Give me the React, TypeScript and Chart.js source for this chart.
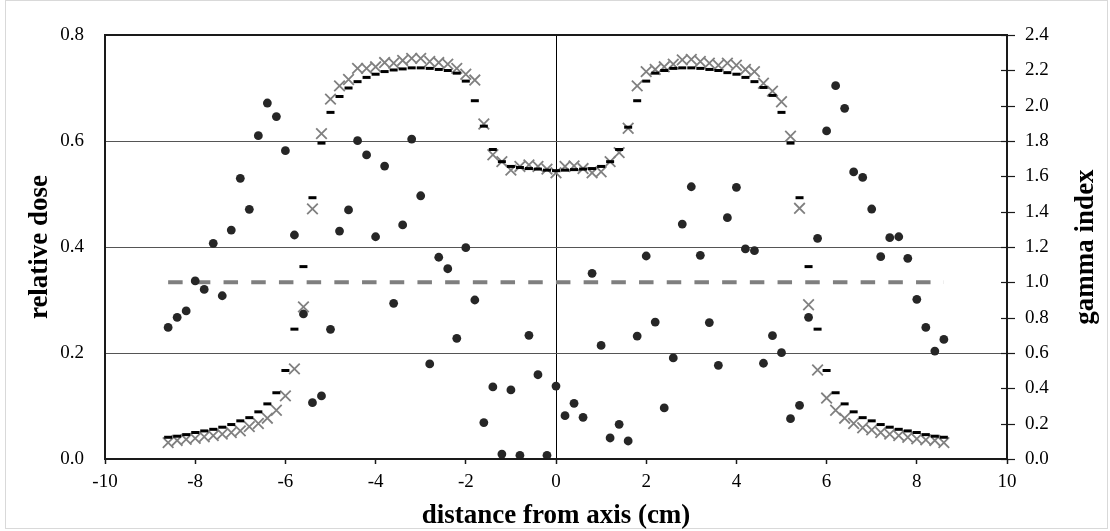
import React, { useEffect, useRef } from "react";
import { Chart, registerables } from "chart.js";

Chart.register(...registerables);

// distance from axis (cm)
const positions = [
  -8.6, -8.4, -8.2, -8.0, -7.8, -7.6, -7.4, -7.2, -7.0, -6.8, -6.6, -6.4, -6.2, -6.0, -5.8,
  -5.6, -5.4, -5.2, -5.0, -4.8, -4.6, -4.4, -4.2, -4.0, -3.8, -3.6, -3.4, -3.2, -3.0, -2.8,
  -2.6, -2.4, -2.2, -2.0, -1.8, -1.6, -1.4, -1.2, -1.0, -0.8, -0.6, -0.4, -0.2, 0.0, 0.2,
  0.4, 0.6, 0.8, 1.0, 1.2, 1.4, 1.6, 1.8, 2.0, 2.2, 2.4, 2.6, 2.8, 3.0, 3.2,
  3.4, 3.6, 3.8, 4.0, 4.2, 4.4, 4.6, 4.8, 5.0, 5.2, 5.4, 5.6, 5.8, 6.0, 6.2,
  6.4, 6.6, 6.8, 7.0, 7.2, 7.4, 7.6, 7.8, 8.0, 8.2, 8.4, 8.6,
];

// relative dose, dash markers
const measuredDose = [
  0.041, 0.043, 0.046, 0.050, 0.053, 0.056, 0.060, 0.065, 0.072, 0.078, 0.089, 0.104, 0.125, 0.167, 0.245,
  0.363, 0.493, 0.596, 0.654, 0.684, 0.700, 0.712, 0.720, 0.726, 0.731, 0.734, 0.736, 0.738, 0.738, 0.737,
  0.735, 0.733, 0.728, 0.713, 0.676, 0.628, 0.584, 0.561, 0.552, 0.550, 0.548, 0.547, 0.545, 0.544, 0.545,
  0.546, 0.547, 0.548, 0.552, 0.561, 0.584, 0.626, 0.676, 0.713, 0.728, 0.733, 0.737, 0.738, 0.738, 0.737,
  0.735, 0.733, 0.729, 0.726, 0.720, 0.712, 0.701, 0.686, 0.654, 0.596, 0.493, 0.363, 0.245, 0.167, 0.125,
  0.104, 0.089, 0.078, 0.072, 0.065, 0.060, 0.056, 0.053, 0.050, 0.046, 0.043, 0.041,
];

// relative dose, cross markers
const calculatedDose = [
  0.031, 0.035, 0.037, 0.039, 0.042, 0.044, 0.047, 0.050, 0.053, 0.061, 0.067, 0.077, 0.092, 0.119, 0.170,
  0.287, 0.472, 0.614, 0.679, 0.704, 0.716, 0.737, 0.737, 0.740, 0.748, 0.747, 0.752, 0.756, 0.756, 0.750,
  0.748, 0.745, 0.737, 0.726, 0.715, 0.632, 0.574, 0.561, 0.545, 0.552, 0.555, 0.552, 0.547, 0.540, 0.552,
  0.553, 0.548, 0.540, 0.542, 0.561, 0.578, 0.624, 0.704, 0.731, 0.735, 0.740, 0.745, 0.753, 0.754, 0.750,
  0.747, 0.743, 0.747, 0.743, 0.735, 0.731, 0.709, 0.694, 0.674, 0.609, 0.473, 0.291, 0.168, 0.115, 0.092,
  0.077, 0.067, 0.059, 0.055, 0.050, 0.047, 0.044, 0.041, 0.038, 0.036, 0.035, 0.031,
];

// gamma index, dot markers (right axis)
const gammaIndex = [
  0.745, 0.802, 0.838, 1.008, 0.960, 1.221, 0.924, 1.296, 1.589, 1.413, 1.830, 2.015, 1.938, 1.745, 1.268,
  0.821, 0.319, 0.357, 0.734, 1.290, 1.410, 1.802, 1.721, 1.258, 1.658, 0.881, 1.325, 1.811, 1.490, 0.538,
  1.142, 1.077, 0.683, 1.196, 0.900, 0.206, 0.408, 0.028, 0.391, 0.021, 0.700, 0.477, 0.021, 0.413, 0.245,
  0.315, 0.236, 1.051, 0.643, 0.119, 0.196, 0.102, 0.696, 1.149, 0.775, 0.289, 0.572, 1.330, 1.541, 1.153,
  0.772, 0.530, 1.366, 1.538, 1.189, 1.179, 0.542, 0.698, 0.602, 0.228, 0.304, 0.802, 1.249, 1.857, 2.113,
  1.985, 1.625, 1.594, 1.415, 1.145, 1.253, 1.258, 1.136, 0.904, 0.745, 0.611, 0.677,
];

// gamma = 1 pass threshold line
const thresholdX = [-8.6, 8.6];
const thresholdGamma = [1.0, 1.0];

const xAxisTitle = "distance from axis (cm)";
const leftAxisTitle = "relative dose";
const rightAxisTitle = "gamma index";

const FONT = '"Liberation Serif", "Times New Roman", serif';

const framePlugin = {
  id: "frame",
  beforeDraw(chart: any) {
    const { ctx, width, height } = chart;
    ctx.save();
    ctx.fillStyle = "#ffffff";
    ctx.fillRect(0, 0, width, height);
    ctx.strokeStyle = "#d9d9d9";
    ctx.lineWidth = 1;
    ctx.strokeRect(5.5, 0.5, width - 8, height - 3);
    ctx.restore();
  },
  afterDraw(chart: any) {
    const { ctx, chartArea } = chart;
    const { left, right, top, bottom } = chartArea;
    ctx.save();
    // plot border
    ctx.strokeStyle = "#1a1a1a";
    ctx.lineWidth = 2;
    ctx.strokeRect(left, top, right - left, bottom - top);
    // right axis crossing tick marks
    const y1 = chart.scales.y1;
    ctx.lineWidth = 1.2;
    ctx.strokeStyle = "#1a1a1a";
    y1.ticks.forEach((t: any) => {
      const py = Math.round(y1.getPixelForValue(t.value)) + 0.5;
      ctx.beginPath();
      ctx.moveTo(right - 6, py);
      ctx.lineTo(right + 8, py);
      ctx.stroke();
    });
    // titles
    ctx.fillStyle = "#000";
    ctx.font = `bold 27px ${FONT}`;
    ctx.textAlign = "center";
    ctx.textBaseline = "middle";
    const midY = (top + bottom) / 2;
    ctx.fillText(xAxisTitle, (left + right) / 2, 516);
    ctx.save();
    ctx.translate(40, midY);
    ctx.rotate(-Math.PI / 2);
    ctx.fillText(leftAxisTitle, 0, 0);
    ctx.restore();
    ctx.save();
    ctx.translate(1086, midY);
    ctx.rotate(-Math.PI / 2);
    ctx.fillText(rightAxisTitle, 0, 0);
    ctx.restore();
    ctx.restore();
  },
};

export default function App() {
  const canvasRef = useRef<HTMLCanvasElement | null>(null);

  useEffect(() => {
    document.body.style.margin = "0";
    const canvas = canvasRef.current;
    if (!canvas) return;

    const measuredPts = positions.map((x, i) => ({ x, y: measuredDose[i] }));
    const calcPts = positions.map((x, i) => ({ x, y: calculatedDose[i] }));
    const gammaPts = positions.map((x, i) => ({ x, y: gammaIndex[i] }));
    const threshPts = thresholdX.map((x, i) => ({ x, y: thresholdGamma[i] }));

    const chart = new Chart(canvas, {
      type: "scatter",
      data: {
        datasets: [
          {
            label: "measured dose",
            data: measuredPts,
            yAxisID: "y",
            pointStyle: "line",
            pointRadius: 4,
            pointBorderWidth: 3,
            borderColor: "#000000",
            backgroundColor: "#000000",
            showLine: false,
          },
          {
            label: "calculated dose",
            data: calcPts,
            yAxisID: "y",
            pointStyle: "crossRot",
            pointRadius: 7.5,
            pointBorderWidth: 1.8,
            borderColor: "#808080",
            backgroundColor: "#808080",
            showLine: false,
          },
          {
            label: "gamma index",
            data: gammaPts,
            yAxisID: "y1",
            pointStyle: "circle",
            pointRadius: 4.4,
            pointBorderWidth: 0,
            borderColor: "#262626",
            backgroundColor: "#262626",
            showLine: false,
          },
          {
            label: "gamma = 1",
            data: threshPts,
            yAxisID: "y1",
            showLine: true,
            pointRadius: 0,
            borderColor: "#7f7f7f",
            borderWidth: 4,
            borderDash: [14.5, 13.2],
            fill: false,
          },
        ],
      },
      options: {
        responsive: false,
        animation: false,
        events: [],
        layout: { padding: { top: 35, left: 0, right: 0, bottom: 0 } },
        plugins: {
          legend: { display: false },
          tooltip: { enabled: false },
          title: { display: false },
        },
        scales: {
          x: {
            type: "linear",
            position: "bottom",
            min: -10,
            max: 10,
            afterFit: (s: any) => {
              s.height = 72;
            },
            ticks: {
              stepSize: 2,
              padding: 7,
              color: "#000",
              font: { family: FONT, size: 19 },
              maxRotation: 0,
            },
            grid: {
              drawTicks: true,
              tickLength: 5,
              tickColor: "#1a1a1a",
              tickWidth: 1.5,
              color: (c: any) => (c.tick && c.tick.value === 0 ? "#000000" : "rgba(0,0,0,0)"),
              lineWidth: 1,
            },
            border: { display: false },
          },
          y: {
            type: "linear",
            position: "left",
            min: 0,
            max: 0.8,
            afterFit: (s: any) => {
              s.width = 105;
            },
            ticks: {
              stepSize: 0.2,
              padding: 21,
              color: "#000",
              font: { family: FONT, size: 19 },
              callback: (v: any) => Number(v).toFixed(1),
            },
            grid: {
              drawTicks: false,
              color: (c: any) =>
                c.tick && c.tick.value > 0.01 && c.tick.value < 0.79 ? "#555555" : "rgba(0,0,0,0)",
              lineWidth: 1,
            },
            border: { display: false },
          },
          y1: {
            type: "linear",
            position: "right",
            min: 0,
            max: 2.4,
            afterFit: (s: any) => {
              s.width = 103;
            },
            ticks: {
              stepSize: 0.2,
              padding: 18,
              color: "#000",
              font: { family: FONT, size: 19 },
              callback: (v: any) => Number(v).toFixed(1),
            },
            grid: {
              display: true,
              drawOnChartArea: false,
              drawTicks: false,
              color: "rgba(0,0,0,0)",
            },
            border: { display: false },
          },
        },
      },
      plugins: [framePlugin],
    });

    return () => {
      chart.destroy();
    };
  }, []);

  return (
    <div style={{ width: 1110, height: 531 }}>
      <canvas ref={canvasRef} width={1110} height={531} style={{ display: "block", width: 1110, height: 531 }} />
    </div>
  );
}
